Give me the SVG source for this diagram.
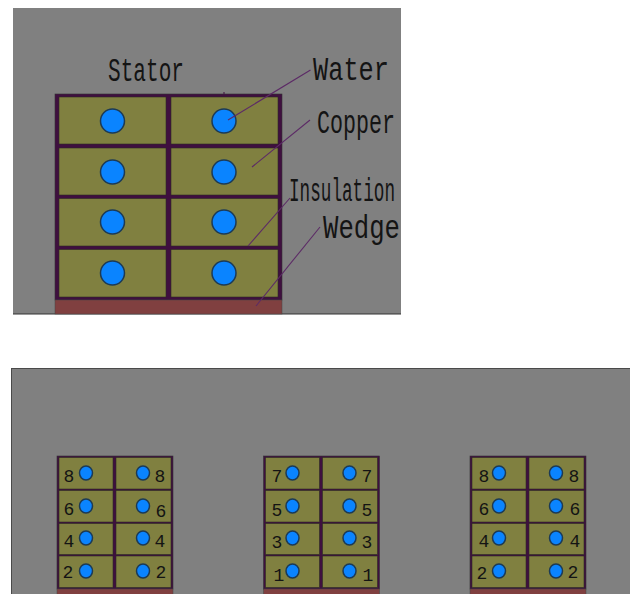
<svg xmlns="http://www.w3.org/2000/svg" xmlns:xlink="http://www.w3.org/1999/xlink" width="630" height="594" viewBox="0 0 630 594">
<style>
.panel{fill:#808080}
.frame{fill:#3f0f3f;stroke:#333;stroke-width:.6}
.cell{fill:#808040;stroke:#2c2c24;stroke-width:.6}
.wedge{fill:#804040;stroke:#444;stroke-width:.5}
.water{fill:#0a84ff;stroke:#1c3a55;stroke-width:1.5}
.lead{stroke:#5c2a66;stroke-width:1.1;fill:none}
text{font-family:"Liberation Mono","Courier New",monospace;fill:#141414}
.lab{font-size:33px}
.num{font-size:18px;text-anchor:middle}
</style>
<defs>
<g id="bigcells">
<rect class="cell" x="59" y="97" width="107" height="47"/><rect class="cell" x="171" y="97" width="107" height="47"/>
<rect class="cell" x="59" y="148" width="107" height="47"/><rect class="cell" x="171" y="148" width="107" height="47"/>
<rect class="cell" x="59" y="198.500" width="107" height="47.500"/><rect class="cell" x="171" y="198.500" width="107" height="47.500"/>
<rect class="cell" x="59" y="249.500" width="107" height="47.500"/><rect class="cell" x="171" y="249.500" width="107" height="47.500"/>
</g>
<g id="stack">
<rect class="frame" x="57" y="456" width="116" height="133"/>
<rect class="cell" x="59" y="457.500" width="54" height="31.500"/><rect class="cell" x="116" y="457.500" width="55" height="31.500"/>
<rect class="cell" x="59" y="490.500" width="54" height="31.500"/><rect class="cell" x="116" y="490.500" width="55" height="31.500"/>
<rect class="cell" x="59" y="523.500" width="54" height="31"/><rect class="cell" x="116" y="523.500" width="55" height="31"/>
<rect class="cell" x="59" y="556" width="54" height="31.500"/><rect class="cell" x="116" y="556" width="55" height="31.500"/>
<rect class="wedge" x="57" y="589" width="116" height="6"/>
<ellipse class="water" cx="86" cy="473" rx="6.500" ry="7"/><ellipse class="water" cx="143" cy="473" rx="6.500" ry="7"/>
<ellipse class="water" cx="86" cy="506" rx="6.500" ry="7"/><ellipse class="water" cx="143" cy="506" rx="6.500" ry="7"/>
<ellipse class="water" cx="86" cy="538" rx="6.500" ry="7"/><ellipse class="water" cx="143" cy="538" rx="6.500" ry="7"/>
<ellipse class="water" cx="86" cy="571" rx="6.500" ry="7"/><ellipse class="water" cx="143" cy="571" rx="6.500" ry="7"/>
</g>
</defs>
<rect class="panel" x="13" y="8" width="388" height="306"/>
<rect class="panel" x="11.500" y="368.500" width="620" height="227" stroke="#4a4a4a"/>
<line x1="13" y1="314" x2="401" y2="314" stroke="#333"/>
<g id="stator-slot">
<rect class="frame" x="55" y="94" width="227" height="206"/>
<line x1="224" y1="92" x2="224" y2="94" stroke="#3f0f3f"/>
<use xlink:href="#bigcells" href="#bigcells"/>
<rect class="wedge" x="55" y="300" width="227" height="14"/>
<circle class="water" cx="112.500" cy="121" r="12"/><circle class="water" cx="224" cy="121" r="12"/>
<circle class="water" cx="112.500" cy="172" r="12"/><circle class="water" cx="224" cy="172" r="12"/>
<circle class="water" cx="112.500" cy="222" r="12"/><circle class="water" cx="224" cy="222" r="12"/>
<circle class="water" cx="112.500" cy="273" r="12"/><circle class="water" cx="224" cy="273" r="12"/>
</g>
<g id="connectors">
<line class="lead" x1="310.500" y1="70" x2="228" y2="120"/>
<line class="lead" x1="310" y1="120" x2="252" y2="167"/>
<line class="lead" x1="290" y1="198" x2="248" y2="246"/>
<line class="lead" x1="320" y1="227" x2="256" y2="306"/>
</g>
<g id="labels">
<text class="lab" x="108" y="81" textLength="76" lengthAdjust="spacingAndGlyphs">Stator</text>
<text class="lab" x="313" y="80" textLength="76" lengthAdjust="spacingAndGlyphs">Water</text>
<text class="lab" x="317" y="133" textLength="78" lengthAdjust="spacingAndGlyphs">Copper</text>
<text class="lab" x="289" y="201" textLength="106" lengthAdjust="spacingAndGlyphs">Insulation</text>
<text class="lab" x="323" y="238" textLength="77" lengthAdjust="spacingAndGlyphs">Wedge</text>
</g>
<g id="stack-1">
<use xlink:href="#stack" href="#stack"/>
<text class="num" x="69" y="482">8</text><text class="num" x="160" y="482">8</text>
<text class="num" x="69" y="515">6</text><text class="num" x="161" y="517">6</text>
<text class="num" x="69" y="547">4</text><text class="num" x="160" y="547">4</text>
<text class="num" x="68" y="578">2</text><text class="num" x="161" y="578">2</text>
</g>
<g id="stack-2">
<use xlink:href="#stack" href="#stack" x="206.500"/>
<text class="num" x="277" y="482">7</text><text class="num" x="367" y="482">7</text>
<text class="num" x="277" y="516">5</text><text class="num" x="367" y="516">5</text>
<text class="num" x="277" y="548">3</text><text class="num" x="367" y="548">3</text>
<text class="num" x="279" y="581">1</text><text class="num" x="368" y="581">1</text>
</g>
<g id="stack-3">
<use xlink:href="#stack" href="#stack" x="413"/>
<text class="num" x="484" y="482">8</text><text class="num" x="574" y="482">8</text>
<text class="num" x="484" y="515">6</text><text class="num" x="575" y="515">6</text>
<text class="num" x="484" y="547">4</text><text class="num" x="575" y="547">4</text>
<text class="num" x="482" y="579">2</text><text class="num" x="573" y="578">2</text>
</g>
</svg>
